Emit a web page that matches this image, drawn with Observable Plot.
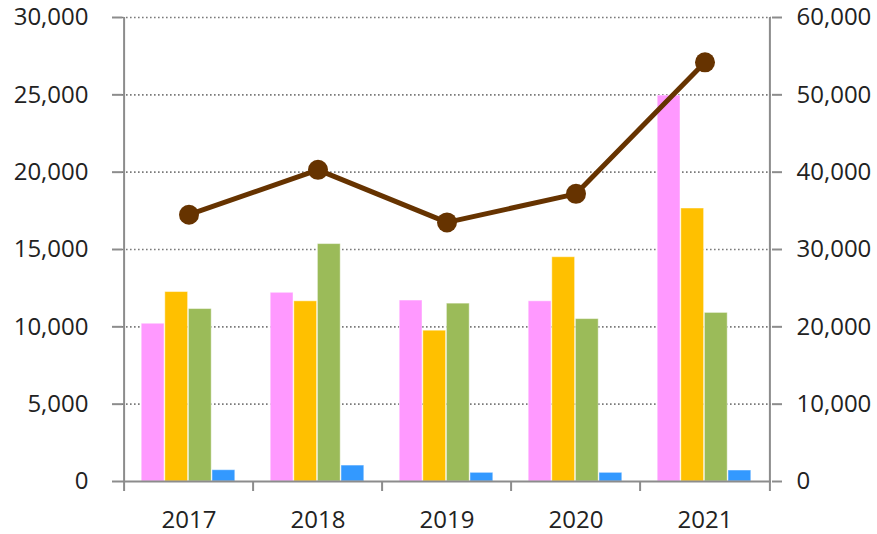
<!DOCTYPE html>
<html>
<head>
<meta charset="utf-8">
<script src="https://cdn.jsdelivr.net/npm/d3@7"></script>
<script src="https://cdn.jsdelivr.net/npm/@observablehq/plot@0.6"></script>
<style>
  html, body { margin: 0; padding: 0; background: #fff; }
  #chart { width: 877px; height: 534px; }
</style>
</head>
<body>
<div id="chart"></div>
<script>
// ---- data ----
const years = ["2017", "2018", "2019", "2020", "2021"];
const seriesNames = ["Series 1", "Series 2", "Series 3", "Series 4"];
const series1 = [10200, 12200, 11700, 11650, 24950];
const series2 = [12250, 11650, 9750, 14500, 17650];
const series3 = [11150, 15350, 11500, 10500, 10900];
const series4 = [730, 1030, 560, 560, 710];
const totals = [34500, 40300, 33500, 37200, 54200]; // right axis line
const leftTicks = [0, 5000, 10000, 15000, 20000, 25000, 30000];
const rightTicks = [0, 10000, 20000, 30000, 40000, 50000, 60000];

const seriesColors = ["#FF99FF", "#FFC000", "#9BBB59", "#3399FF"];
const lineColor = "#663300";
const axisGray = "#8c8c8c";

const seriesValues = [series1, series2, series3, series4];
const barData = seriesValues.map((vals, s) =>
  years.map((year, i) => ({year, series: seriesNames[s], value: vals[i]})));
const lineData = years.map((year, i) => ({year, total: totals[i]}));

// ---- layout ----
const W = 877, H = 534;
const mL = 122, mR = 106, mT = 17, mB = 53;
const band = (W - mL - mR) / years.length;
const barW = 23.6;
const groupPad = (band - 4 * barW) / 2 - 0.5;

const fmt = d3.format(",");
const ratio = rightTicks[rightTicks.length - 1] / leftTicks[leftTicks.length - 1];

const barMarks = barData.map((rows, s) =>
  Plot.barY(rows, {
    x: "year",
    y: "value",
    fill: seriesColors[s],
    stroke: "white",
    strokeOpacity: 0.45,
    strokeWidth: 1,
    insetLeft: groupPad + s * barW,
    insetRight: band - groupPad - (s + 1) * barW
  }));

const chart = Plot.plot({
  width: W,
  height: H,
  marginLeft: mL,
  marginRight: mR,
  marginTop: mT,
  marginBottom: mB,
  style: {fontFamily: "'Open Sans', 'Noto Sans', sans-serif", fontSize: "24px", color: "#222", background: "#fff"},
  x: {domain: years, padding: 0, axis: null, label: null},
  y: {domain: [leftTicks[0], leftTicks[leftTicks.length - 1]], axis: null, label: null},
  marks: [
    Plot.gridY(leftTicks.slice(1), {stroke: "#7a7a7a", strokeOpacity: 1, strokeWidth: 1.6, strokeDasharray: "1.6,2.4"}),
    ...barMarks,
    // frame side lines
    Plot.ruleX([years[0]], {dx: -band / 2, stroke: axisGray, strokeWidth: 2}),
    Plot.ruleX([years[years.length - 1]], {dx: band / 2, stroke: axisGray, strokeWidth: 2}),
    Plot.ruleY([0], {stroke: axisGray, strokeWidth: 2}),
    // category boundary ticks
    Plot.axisX({ticks: years, tickSize: 10, tickFormat: () => "", label: null, dx: -band / 2, stroke: axisGray, strokeWidth: 2}),
    Plot.axisX({ticks: [years[years.length - 1]], tickSize: 10, tickFormat: () => "", label: null, dx: band / 2, stroke: axisGray, strokeWidth: 2}),
    // category labels
    Plot.axisX({ticks: years, tickSize: 0, tickPadding: 29, label: null, fill: "#222"}),
    // left axis
    Plot.axisY({ticks: leftTicks, tickSize: 10, tickPadding: 24, tickFormat: fmt, label: null, stroke: axisGray, strokeWidth: 2, fill: "#222"}),
    // right axis (secondary scale shown by mapping its ticks onto the left scale)
    Plot.axisY({anchor: "right", ticks: leftTicks, tickSize: 10, tickPadding: 15, label: null,
      tickFormat: (d, i) => fmt(rightTicks[i]), stroke: axisGray, strokeWidth: 2, fill: "#222"}),
    // line on secondary axis
    Plot.line(lineData, {x: "year", y: d => d.total / ratio, stroke: lineColor, strokeWidth: 5}),
    Plot.dot(lineData, {x: "year", y: d => d.total / ratio, r: 10, fill: lineColor})
  ]
});
document.getElementById("chart").appendChild(chart);
</script>
</body>
</html>
